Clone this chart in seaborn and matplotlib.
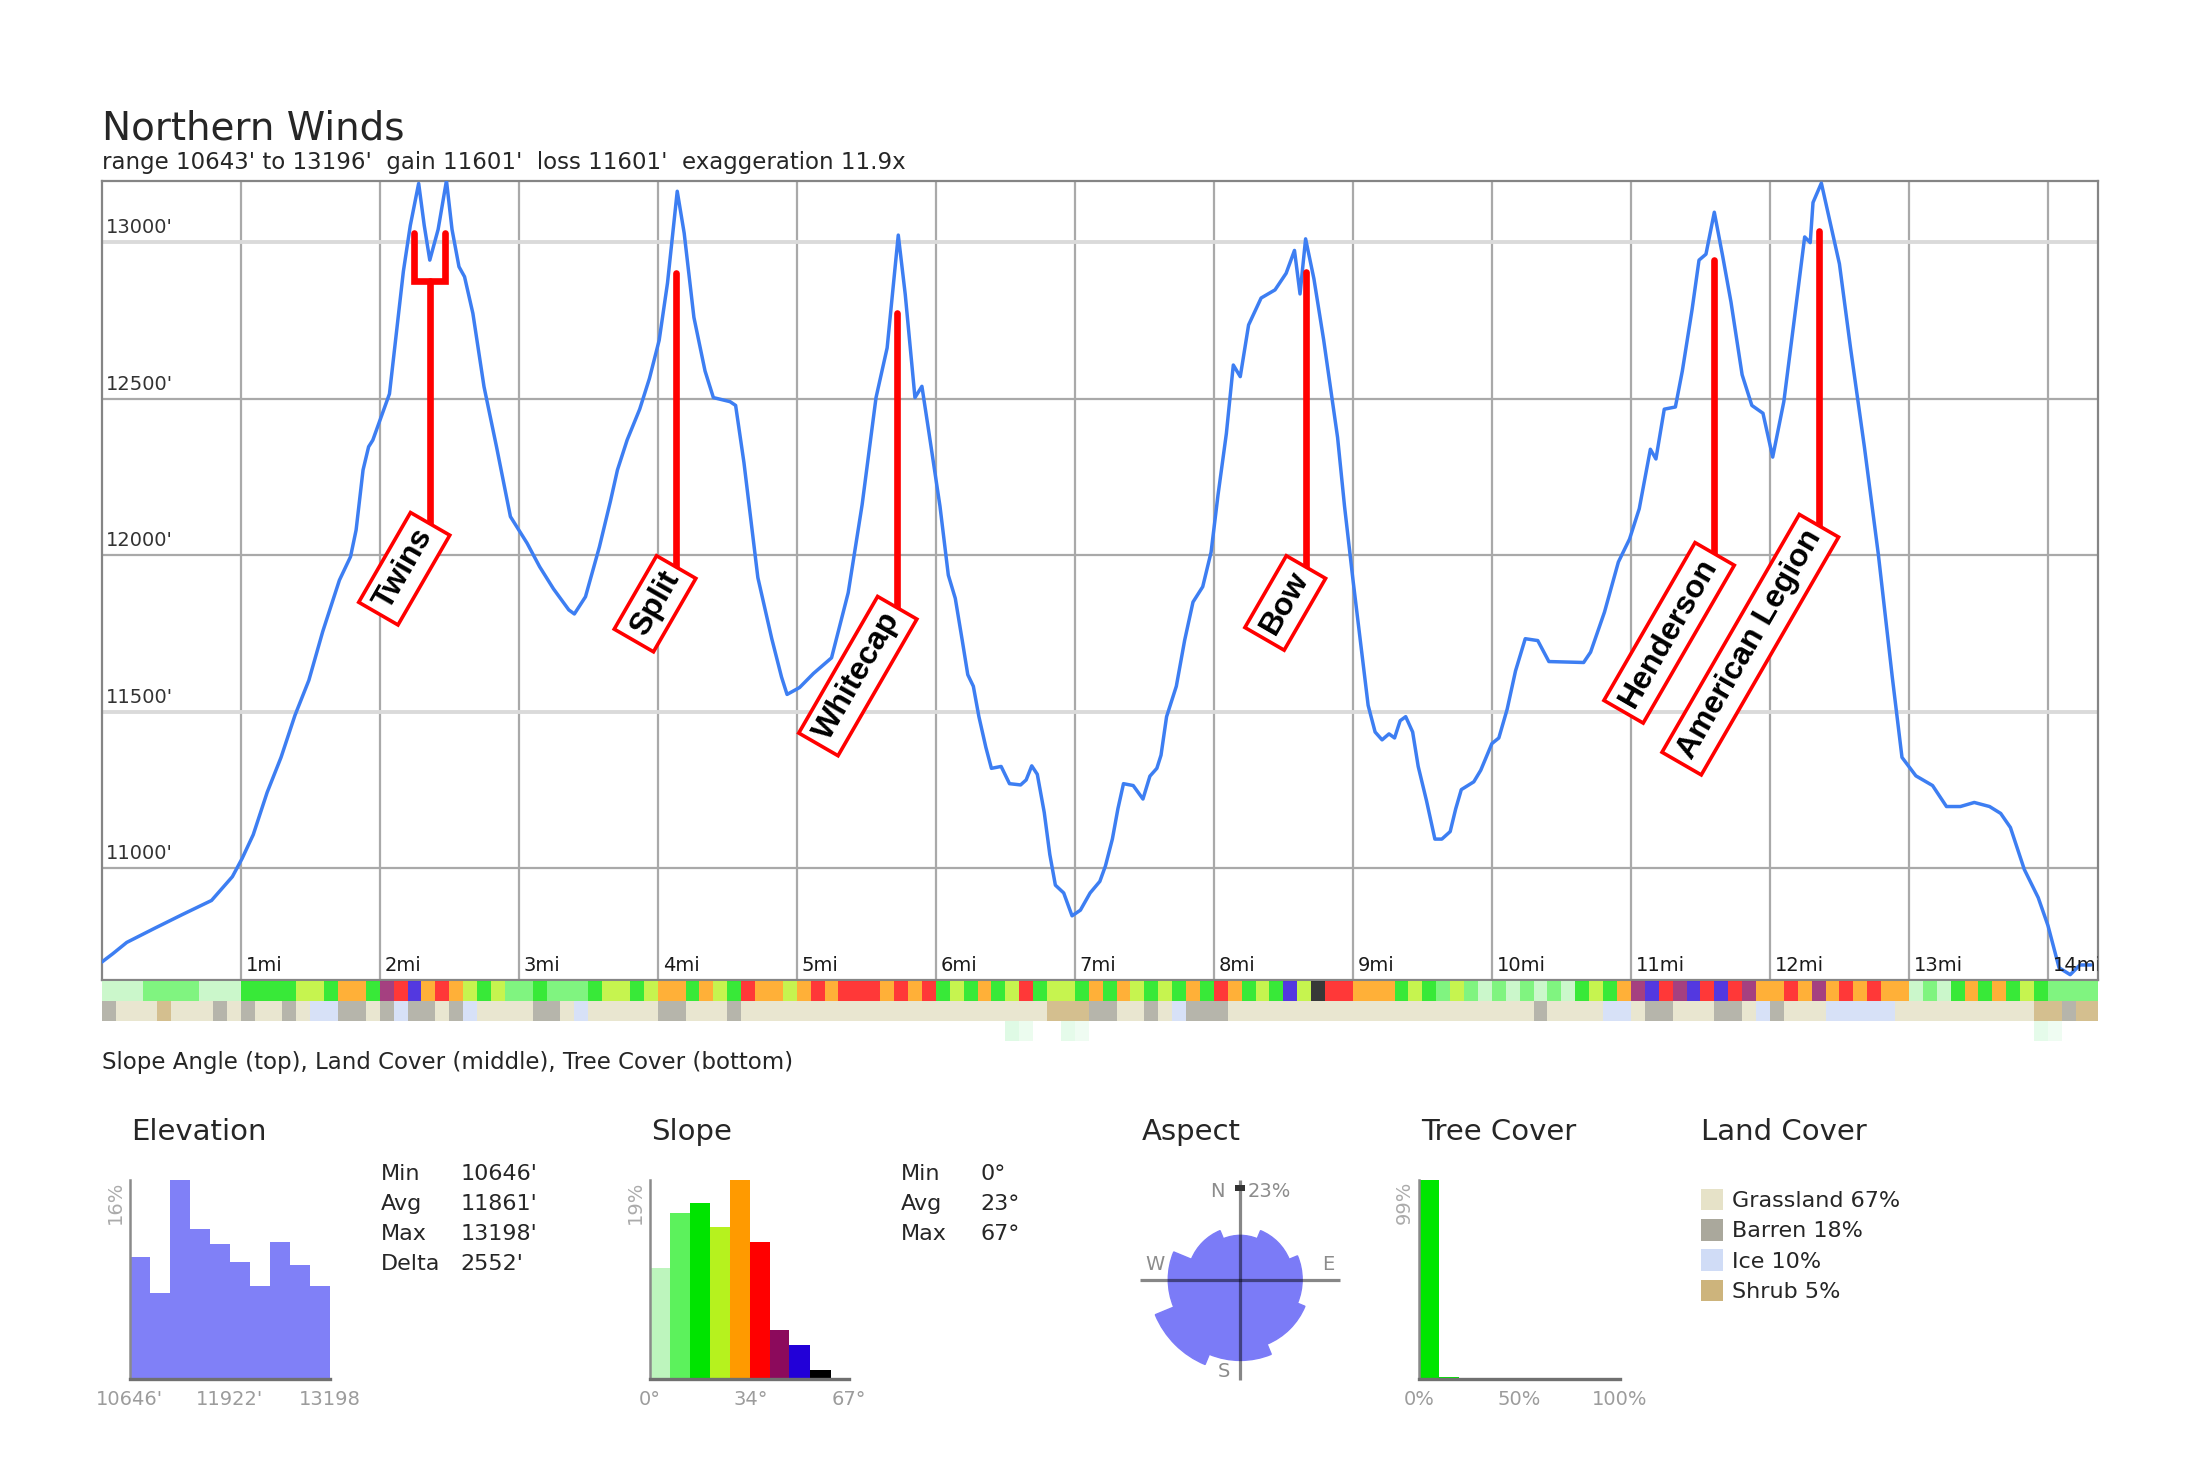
import numpy as np
import matplotlib
matplotlib.use("Agg")
import matplotlib.pyplot as plt
import matplotlib.transforms as mtransforms
from matplotlib.patches import Patch
import seaborn as sns

sns.set_style("white")
plt.rcParams["font.family"] = ["DejaVu Sans"]

W, H = 2200, 1467

# elevation profile: distance (mi) and elevation (ft)
prof_mi = [0.00, 0.08, 0.18, 0.38, 0.58, 0.79, 0.94, 1.01, 1.09, 1.19,
           1.29, 1.39, 1.49, 1.59, 1.71, 1.79, 1.83, 1.88, 1.92, 1.95,
           2.02, 2.07, 2.17, 2.22, 2.28, 2.32, 2.36, 2.42, 2.48, 2.52,
           2.57, 2.61, 2.67, 2.75, 2.84, 2.94, 3.06, 3.15, 3.25, 3.36,
           3.40, 3.48, 3.58, 3.66, 3.71, 3.78, 3.87, 3.94, 4.01, 4.07,
           4.14, 4.19, 4.26, 4.34, 4.40, 4.52, 4.56, 4.62, 4.72, 4.82,
           4.89, 4.93, 5.02, 5.12, 5.25, 5.37, 5.47, 5.57, 5.65, 5.73,
           5.78, 5.85, 5.90, 5.95, 6.03, 6.09, 6.14, 6.19, 6.23, 6.27,
           6.31, 6.36, 6.40, 6.47, 6.53, 6.61, 6.65, 6.69, 6.73, 6.78,
           6.82, 6.86, 6.92, 6.98, 7.04, 7.11, 7.18, 7.22, 7.27, 7.31,
           7.35, 7.42, 7.49, 7.54, 7.59, 7.62, 7.66, 7.73, 7.79, 7.85,
           7.92, 7.98, 8.03, 8.09, 8.14, 8.19, 8.25, 8.34, 8.44, 8.52,
           8.58, 8.62, 8.66, 8.72, 8.79, 8.89, 8.94, 9.00, 9.06, 9.11,
           9.16, 9.21, 9.26, 9.30, 9.34, 9.38, 9.43, 9.47, 9.53, 9.59,
           9.64, 9.70, 9.74, 9.78, 9.87, 9.92, 10.00, 10.05, 10.11, 10.17,
           10.24, 10.33, 10.41, 10.66, 10.71, 10.81, 10.91, 10.99, 11.06, 11.14,
           11.18, 11.24, 11.32, 11.37, 11.44, 11.49, 11.54, 11.60, 11.66, 11.72,
           11.80, 11.87, 11.95, 12.02, 12.10, 12.17, 12.25, 12.29, 12.31, 12.37,
           12.42, 12.45, 12.50, 12.58, 12.68, 12.78, 12.88, 12.95, 13.05, 13.17,
           13.27, 13.37, 13.47, 13.58, 13.66, 13.73, 13.83, 13.93, 14.00, 14.08,
           14.16, 14.23, 14.31]
prof_ft = [10700, 10727, 10763, 10808, 10852, 10897, 10973, 11031, 11107, 11242,
           11354, 11488, 11600, 11756, 11920, 11995, 12080, 12272, 12346, 12367,
           12453, 12515, 12906, 13053, 13187, 13053, 12942, 13040, 13196, 13040,
           12921, 12889, 12772, 12538, 12346, 12123, 12038, 11963, 11892, 11825,
           11812, 11867, 12026, 12173, 12272, 12368, 12466, 12564, 12686, 12869,
           13162, 13028, 12759, 12588, 12503, 12490, 12478, 12295, 11928, 11733,
           11611, 11555, 11577, 11622, 11672, 11880, 12161, 12503, 12662, 13022,
           12833, 12503, 12539, 12393, 12156, 11936, 11862, 11728, 11618, 11581,
           11484, 11386, 11319, 11325, 11270, 11266, 11282, 11327, 11300, 11178,
           11044, 10946, 10921, 10848, 10866, 10921, 10958, 11007, 11093, 11190,
           11270, 11264, 11221, 11294, 11319, 11361, 11484, 11581, 11728, 11850,
           11899, 12009, 12192, 12388, 12607, 12570, 12735, 12821, 12847, 12900,
           12973, 12834, 13010, 12882, 12687, 12376, 12156, 11924, 11704, 11520,
           11435, 11410, 11429, 11416, 11471, 11484, 11435, 11325, 11215, 11093,
           11093, 11117, 11190, 11251, 11276, 11313, 11398, 11416, 11508, 11630,
           11733, 11727, 11660, 11657, 11690, 11818, 11978, 12051, 12148, 12338,
           12307, 12466, 12473, 12588, 12784, 12942, 12961, 13095, 12955, 12808,
           12576, 12478, 12453, 12313, 12490, 12734, 13016, 12998, 13126, 13188,
           13089, 13028, 12930, 12661, 12344, 12002, 11611, 11354, 11295, 11264,
           11197, 11197, 11210, 11197, 11175, 11130, 10996, 10906, 10817, 10682,
           10660, 10691, 10691]

# peak labels
peak_names = ["Twins", "Split", "Whitecap", "Bow", "Henderson", "American Legion"]
peak_mi = [2.36, 4.13, 5.72, 8.66, 11.60, 12.35]
peak_top = [12876, 12900, 12772, 12905, 12943, 13034]
peak_label_ft = [12098, 11960, 11830, 11960, 12002, 12092]
twins_prongs = [2.25, 2.47]
twins_prong_top = 13030

mile_ticks = list(range(1, 15))
elev_ticks = [11000, 11500, 12000, 12500, 13000]

# strips below the profile, one value per 0.1 mi
slope_deg = [4, 5, 3, 10, 12, 8, 11, 5, 4, 6,
             16, 18, 17, 20, 22, 25, 19, 27, 31, 18,
             44, 38, 50, 32, 36, 28, 25, 20, 24, 12,
             10, 14, 11, 13, 9, 18, 22, 25, 19, 24,
             31, 27, 19, 29, 21, 16, 35, 29, 33, 24,
             33, 37, 30, 35, 38, 34, 29, 37, 32, 36,
             20, 24, 17, 30, 19, 22, 35, 18, 21, 26,
             19, 31, 18, 28, 21, 17, 26, 20, 33, 19,
             36, 33, 20, 26, 18, 48, 22, 55, 40, 36,
             30, 27, 31, 19, 25, 18, 12, 24, 10, 5,
             8, 4, 10, 6, 9, 5, 17, 24, 19, 30,
             42, 50, 38, 46, 53, 40, 47, 36, 44, 33,
             31, 36, 29, 42, 33, 37, 30, 35, 32, 28,
             6, 10, 4, 17, 29, 18, 33, 20, 25, 19,
             12, 9, 11, 8]
land_strip = ("BGGGSGGGBG" "BGGBGIIBBG" "BIBBGBIGGG" "GBBGIGGGGG" "BBGGGBGGGG"
              "GGGGGGGGGG" "GGGGGGGGSS" "SBBGGBGIBB" "BGGGGGGGGG" "GGGGGGGGGG"
              "GGGBGGGGII" "GBBGGGBBGI" "BGGGIIIIIG" "GGGGGGGGGS" "SBSS")
tree_mi = [6.5, 6.6, 6.9, 7.0, 13.9, 14.0]
tree_val = [10, 6, 8, 5, 8, 5]

# summary panels
elev_hist = [9.8, 6.9, 16.0, 12.1, 10.9, 9.4, 7.5, 11.0, 9.2, 7.5]
elev_range = [10646, 13198]
elev_tick_vals = [10646, 11922, 13198]
elev_tick_text = ["10646'", "11922'", "13198"]
elev_stat_names = ["Min", "Avg", "Max", "Delta"]
elev_stat_vals = ["10646'", "11861'", "13198'", "2552'"]

slope_hist = [10.6, 15.9, 16.8, 14.5, 19.0, 13.1, 4.7, 3.3, 0.9]
slope_edges = [0, 7, 13.5, 20.5, 27, 34, 40.5, 47, 54, 61]
slope_colors = ["#bdf5bd", "#5cf25c", "#00e400", "#b6f21e", "#ff9a00",
                "#ff0000", "#8c0a5c", "#2200d8", "#000000"]
slope_ticks = [0, 34, 67]
slope_stat_names = ["Min", "Avg", "Max"]
slope_stat_vals = ["0°", "23°", "67°"]

aspect_dirs = ["N", "NE", "E", "SE", "S", "SW", "W", "NW"]
aspect_pct = [5.3, 7.6, 10.4, 13.3, 17.8, 23.0, 14.1, 7.6]

tree_hist = [99, 1, 0, 0, 0, 0, 0, 0, 0, 0]
tree_ticks = [0, 50, 100]

land_names = ["Grassland", "Barren", "Ice", "Shrub"]
land_pct = [67, 18, 10, 5]
land_colors = {"G": "#e6e2c8", "B": "#aaa89c", "I": "#d0dcf6", "S": "#cdb47c"}
land_keys = ["G", "B", "I", "S"]

fig = plt.figure(figsize=(W / 100, H / 100), dpi=100)


def px_axes(left, top, right, bottom, **kw):
    return fig.add_axes([left / W, 1 - bottom / H, (right - left) / W, (bottom - top) / H], **kw)


def px_text(x, y, s, **kw):
    return fig.text(x / W, 1 - y / H, s, **kw)


# ---- main profile
ax = px_axes(101.7, 180.6, 2098, 980)
for m in mile_ticks:
    ax.axvline(m, color="#a9a9a9", lw=1.6, zorder=1)
for e in elev_ticks:
    light = e in (11500, 13000)
    ax.axhline(e, color="#dadada" if light else "#a9a9a9", lw=2.8 if light else 1.6, zorder=1)

sns.lineplot(x=prof_mi, y=prof_ft, ax=ax, color="#3d7ef2", linewidth=2.5,
             sort=False, estimator=None, zorder=3)

# Twins fork
ax.plot([twins_prongs[0], twins_prongs[0], twins_prongs[1], twins_prongs[1]],
        [twins_prong_top, peak_top[0], peak_top[0], twins_prong_top],
        color="red", lw=4.8, solid_capstyle="round", solid_joinstyle="miter", zorder=4)
for name, m, top, bot in zip(peak_names, peak_mi, peak_top, peak_label_ft):
    ax.plot([m, m], [bot, top], color="red", lw=4.8, solid_capstyle="round", zorder=4)
    ax.annotate(name, xy=(m, bot), xytext=(-2.5, -4.4), textcoords="offset points",
                rotation=60, rotation_mode="anchor", ha="right", va="center",
                fontsize=23, fontweight="bold", family="Liberation Sans", color="black",
                bbox=dict(boxstyle="square,pad=0.24", fc="white", ec="red", lw=2.6),
                zorder=5)

ax.set_xlim(0, 14.36)
ax.set_ylim(10643, 13196)
ax.set_xticks([])
ax.set_yticks([])
ax.set_xlabel("")
ax.set_ylabel("")
for sp in ax.spines.values():
    sp.set_color("#858585")
    sp.set_linewidth(1.6)

ytrans = mtransforms.offset_copy(ax.get_yaxis_transform(), fig=fig, x=4, y=9, units="dots")
for e in elev_ticks:
    ax.text(0, e, f"{e}'", transform=ytrans, ha="left", va="baseline",
            fontsize=14, color="#333333")
xtrans = mtransforms.offset_copy(ax.get_xaxis_transform(), fig=fig, x=5, y=9, units="dots")
for m in mile_ticks:
    ax.text(m, 0, f"{m}mi", transform=xtrans, ha="left", va="baseline",
            fontsize=14, color="#1a1a1a", clip_on=True)

px_text(101.7, 139.3, "Northern Winds", fontsize=28, va="baseline")
px_text(101.7, 168.8, "range 10643' to 13196'  gain 11601'  loss 11601'  exaggeration 11.9x",
        fontsize=16.5, va="baseline")

# ---- strips
strip_x = np.arange(len(slope_deg)) * 0.1
slope_cat = np.digitize(slope_deg, slope_edges[1:-1])

ax_s = px_axes(101.7, 981, 2098, 1001)
ax_s.bar(strip_x, 1, width=0.1, align="edge", linewidth=0, alpha=0.78,
         color=[slope_colors[c] for c in slope_cat])
ax_l = px_axes(101.7, 1001, 2098, 1021)
ax_l.bar(strip_x, 1, width=0.1, align="edge", linewidth=0, alpha=0.85,
         color=[land_colors[k] for k in land_strip])
ax_t = px_axes(101.7, 1021, 2098, 1041)
ax_t.bar(tree_mi, 1, width=0.1, align="edge", linewidth=0,
         color=[(0.0, 0.85, 0.2, v / 80) for v in tree_val])
for a in (ax_s, ax_l, ax_t):
    a.set_xlim(0, 14.36)
    a.set_ylim(0, 1)
    a.set_axis_off()

px_text(101.7, 1062, "Slope Angle (top), Land Cover (middle), Tree Cover (bottom)",
        fontsize=16.5, va="center")

# ---- panel titles
for title, x in [("Elevation", 131), ("Slope", 650.8), ("Aspect", 1141.5),
                 ("Tree Cover", 1420.8), ("Land Cover", 1701.4)]:
    px_text(x, 1139.5, title, fontsize=21, va="baseline")


def style_hist(a, ticks, labels, top_label):
    for side in ("top", "right"):
        a.spines[side].set_visible(False)
    a.spines["left"].set_color("#8a8a8a")
    a.spines["left"].set_linewidth(1.8)
    a.spines["bottom"].set_color("#707070")
    a.spines["bottom"].set_linewidth(2.4)
    a.set_yticks([])
    a.set_xticks(ticks)
    a.set_xticklabels(labels)
    a.tick_params(axis="x", length=0, pad=8, labelsize=14, labelcolor="#9c9c9c")
    a.set_facecolor("white")
    tr = mtransforms.offset_copy(a.transAxes, fig=fig, x=-5, y=0, units="dots")
    a.text(0, 1, top_label, transform=tr, rotation=90, ha="right", va="top",
           fontsize=14, color="#ababab")


# elevation histogram
ax_e = px_axes(129.7, 1180.3, 330, 1379.3)
e_edges = np.linspace(elev_range[0], elev_range[1], len(elev_hist) + 1)
ax_e.bar(e_edges[:-1], elev_hist, width=np.diff(e_edges), align="edge",
         color="#8080f7", linewidth=0)
ax_e.set_xlim(elev_range)
ax_e.set_ylim(0, max(elev_hist))
style_hist(ax_e, elev_tick_vals, elev_tick_text, f"{max(elev_hist):.0f}%")
for i, (n, v) in enumerate(zip(elev_stat_names, elev_stat_vals)):
    px_text(381, 1180 + 30 * i, n, fontsize=16, va="baseline")
    px_text(460.7, 1180 + 30 * i, v, fontsize=16, va="baseline")

# slope histogram
ax_sl = px_axes(649.5, 1180.3, 848.5, 1379.3)
ax_sl.bar(slope_edges[:-1], slope_hist, width=np.diff(slope_edges), align="edge",
          color=slope_colors, linewidth=0)
ax_sl.set_xlim(0, 67)
ax_sl.set_ylim(0, max(slope_hist))
style_hist(ax_sl, slope_ticks, [f"{t}°" for t in slope_ticks], f"{max(slope_hist):.0f}%")
for i, (n, v) in enumerate(zip(slope_stat_names, slope_stat_vals)):
    px_text(900.8, 1180 + 30 * i, n, fontsize=16, va="baseline")
    px_text(980.5, 1180 + 30 * i, v, fontsize=16, va="baseline")

# aspect rose
ax_a = px_axes(1140.3, 1179.5, 1340.3, 1379.5, projection="polar")
ax_a.set_theta_zero_location("N")
ax_a.set_theta_direction(-1)
theta = np.deg2rad([45 * i for i in range(len(aspect_dirs))])
r_rose = np.sqrt(aspect_pct)
ax_a.bar(theta, r_rose, width=np.pi / 4, color="#7b7bf7", edgecolor="#7b7bf7",
         linewidth=1.0, antialiased=True)
r_max = r_rose.max() * 1.087
for t in np.deg2rad([0, 90, 180, 270]):
    ax_a.plot([t, t], [0, r_max], color="black", alpha=0.47, lw=2.3,
              solid_capstyle="butt", clip_on=False)
ax_a.plot([0], [r_rose.max()], marker="_", ms=7, mew=3, color="#333333")
ax_a.set_ylim(0, r_max)
ax_a.set_axis_off()
lab_kw = dict(transform=ax_a.transAxes, fontsize=14, color="#8c8c8c", va="center")
ax_a.text(0.4235, 0.939, "N", ha="right", **lab_kw)
ax_a.text(0.539, 0.939, f"{max(aspect_pct):.0f}%", ha="left", **lab_kw)
ax_a.text(0.024, 0.5725, "W", ha="left", **lab_kw)
ax_a.text(0.968, 0.5725, "E", ha="right", **lab_kw)
ax_a.text(0.449, 0.039, "S", ha="right", **lab_kw)

# tree cover histogram
ax_tc = px_axes(1418.9, 1180.3, 1619.8, 1379.3)
t_edges = np.arange(0, 101, 10)
ax_tc.bar(t_edges[:-1], tree_hist, width=10, align="edge", color="#00e600", linewidth=0)
ax_tc.set_xlim(0, 100)
ax_tc.set_ylim(0, max(tree_hist))
style_hist(ax_tc, tree_ticks, [f"{t}%" for t in tree_ticks], f"{max(tree_hist)}%")

# land cover legend
handles = [Patch(facecolor=land_colors[k], edgecolor="none") for k in land_keys]
labels = [f"{n} {p}%" for n, p in zip(land_names, land_pct)]
fig.legend(handles, labels, loc="upper left", bbox_to_anchor=(1700.8 / W, 1 - 1189 / H),
           frameon=False, fontsize=16, handlelength=1.0, handleheight=1.1,
           handletextpad=0.42, labelspacing=0.36, borderpad=0, borderaxespad=0)

fig.savefig("out.png", dpi=100, facecolor="white")
